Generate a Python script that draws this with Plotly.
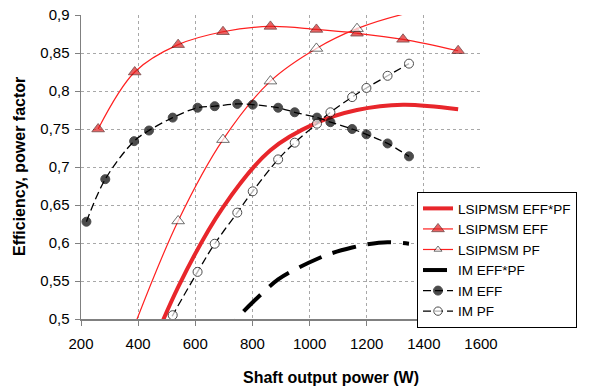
import plotly.graph_objects as go

# ---- data ----
ls_power = [388, 540, 697, 863, 1024, 1166, 1327, 1520]
ls_eff = [0.825, 0.861, 0.878, 0.885, 0.881, 0.876, 0.868, 0.853]
ls_eff_power = [260] + ls_power
ls_eff_full = [0.750] + ls_eff
ls_pf = [0.492, 0.629, 0.736, 0.813, 0.856, 0.882, 0.901, 0.915]
ls_effpf = [0.407, 0.542, 0.647, 0.722, 0.758, 0.775, 0.782, 0.776]

im_power = [219, 285, 386, 438, 521, 608, 668, 747, 801, 890, 948, 1026, 1073, 1149, 1199, 1273, 1348]
im_eff = [0.628, 0.684, 0.734, 0.748, 0.765, 0.778, 0.780, 0.783, 0.782, 0.778, 0.772, 0.765, 0.759, 0.750, 0.743, 0.731, 0.714]
im_pf_power = [438, 521, 608, 668, 747, 801, 890, 948, 1026, 1073, 1149, 1199, 1273, 1348]
im_pf = [0.448, 0.505, 0.562, 0.599, 0.640, 0.668, 0.710, 0.732, 0.757, 0.772, 0.792, 0.804, 0.820, 0.836]
im_effpf_power = [608, 668, 747, 801, 890, 948, 1026, 1073, 1149, 1199, 1273, 1348]
im_effpf = [0.437, 0.467, 0.501, 0.522, 0.552, 0.565, 0.579, 0.586, 0.594, 0.598, 0.601, 0.599]

x_ticks = [200, 400, 600, 800, 1000, 1200, 1400, 1600]
y_ticks = [0.5, 0.55, 0.6, 0.65, 0.7, 0.75, 0.8, 0.85, 0.9]
y_tick_labels = ["0,5", "0,55", "0,6", "0,65", "0,7", "0,75", "0,8", "0,85", "0,9"]

Y_MIN, Y_MAX = 0.5, 0.9


def vis_sizes(vals, size):
    # markers outside the axis range are not drawn (as in the source chart)
    return [size if Y_MIN - 1e-9 <= v <= Y_MAX + 1e-9 else 0 for v in vals]


RED = "#E8262B"
THIN_RED = "#FF2020"
FONT = "Liberation Sans, Arial, sans-serif"

fig = go.Figure()

fig.add_trace(go.Scatter(
    x=ls_power, y=ls_effpf, name="LSIPMSM EFF*PF", mode="lines",
    line=dict(color=RED, width=4, shape="spline")))

fig.add_trace(go.Scatter(
    x=ls_eff_power, y=ls_eff_full, name="LSIPMSM EFF", mode="lines+markers",
    line=dict(color=THIN_RED, width=1.2, shape="spline"),
    marker=dict(symbol="triangle-up", size=vis_sizes(ls_eff_full, 11), color="#E02020",
                line=dict(color="#3a0000", width=0.8))))

fig.add_trace(go.Scatter(
    x=ls_power, y=ls_pf, name="LSIPMSM PF", mode="lines+markers",
    line=dict(color=THIN_RED, width=1.2, shape="spline"),
    marker=dict(symbol="triangle-up", size=vis_sizes(ls_pf, 11), color="white",
                line=dict(color="black", width=0.8))))

fig.add_trace(go.Scatter(
    x=im_effpf_power, y=im_effpf, name="IM EFF*PF", mode="lines",
    line=dict(color="black", width=4, shape="spline", dash="24px,12px")))

fig.add_trace(go.Scatter(
    x=im_power, y=im_eff, name="IM EFF", mode="lines+markers",
    line=dict(color="black", width=1.3, shape="spline", dash="8px,4px"),
    marker=dict(symbol="circle", size=vis_sizes(im_eff, 9), color="black",
                line=dict(color="black", width=1))))

fig.add_trace(go.Scatter(
    x=im_pf_power, y=im_pf, name="IM PF", mode="lines+markers",
    line=dict(color="black", width=1.3, shape="spline", dash="8px,4px"),
    marker=dict(symbol="circle", size=vis_sizes(im_pf, 9), color="white",
                line=dict(color="black", width=1))))

fig.update_layout(
    width=590, height=388,
    margin=dict(l=81, r=109, t=15, b=69, autoexpand=False),
    paper_bgcolor="white", plot_bgcolor="white",
    font=dict(family=FONT, size=15, color="black"),
    showlegend=True,
    hovermode=False,
    legend=dict(x=0.84, y=0.4174, xanchor="left", yanchor="top",
                bgcolor="white", bordercolor="black", borderwidth=1,
                font=dict(family=FONT, size=13.5, color="black"),
                tracegroupgap=0, itemwidth=30),
    xaxis=dict(range=[200, 1600], tickvals=x_ticks, ticks="outside", ticklen=5,
               tickcolor="#808080", showline=True, linecolor="#808080", linewidth=1.5,
               showgrid=True, gridcolor="#A8A8A8", griddash="3px,3px", gridwidth=1,
               zeroline=False, tickfont=dict(size=15), ticklabelstandoff=5),
    yaxis=dict(range=[Y_MIN, Y_MAX], tickvals=y_ticks, ticktext=y_tick_labels,
               ticks="outside", ticklen=5, tickcolor="#808080",
               showline=True, linecolor="#808080", linewidth=1.5,
               showgrid=True, gridcolor="#A8A8A8", griddash="3px,3px", gridwidth=1,
               zeroline=False, tickfont=dict(size=15), ticklabelstandoff=2),
    annotations=[
        dict(text="<b>Shaft output power (W)</b>", xref="paper", yref="paper",
             x=0.625, y=-0.193, xanchor="center", yanchor="middle", showarrow=False,
             font=dict(family=FONT, size=16, color="black")),
        dict(text="<b>Efficiency, power factor</b>", xref="paper", yref="paper",
             x=-0.155, y=0.5, xanchor="center", yanchor="middle", showarrow=False,
             textangle=-90, font=dict(family=FONT, size=16, color="black")),
    ],
)

fig.write_html(
    "out.html",
    config={"displayModeBar": False, "staticPlot": True},
    post_script="document.body.style.margin='0';document.body.style.overflow='hidden';",
)
